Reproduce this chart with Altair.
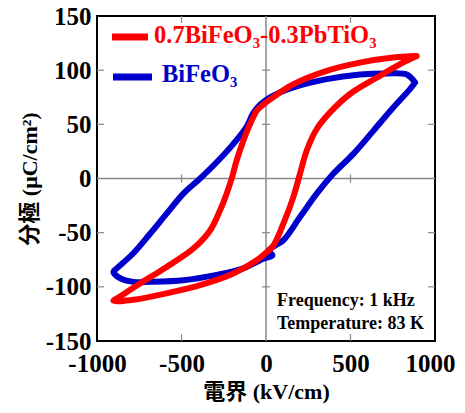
import altair as alt
import pandas as pd

# ---- data ----
blue_E = [882, 833, 714, 556, 359, 162, 24, -36, -77, -114, -193, -292, -390, -489, -588, -686, -785, -883, -903,
          -864, -785, -686, -489, -292, -134, -16, 38, 15, 63, 103, 201, 300, 398, 517, 635, 753, 852, 882]
blue_P = [88.6, 96, 97, 96, 91.7, 84, 75, 68, 60, 48, 32, 15, 0, -14, -32.5, -51, -69, -83, -86,
          -92, -95.4, -95.4, -94, -89, -83, -74, -71, -67, -61, -57, -35.6, -14, 4.3, 22.7, 44, 65.6, 82.5, 88.6]

red_E = [891, 753, 556, 359, 162, 24, -36, -55, -95, -134, -174, -203, -233, -272, -331, -430, -588, -746, -864, -903,
         -785, -588, -390, -193, -55, 4, 43, 103, 162, 201, 241, 300, 379, 497, 655, 793, 891]
red_P = [113, 111.6, 107, 99.4, 87, 73, 65.6, 62.6, 50, 35, 16.6, 0, -14, -29.4, -48, -64.7, -81.6, -97, -109, -113,
         -112, -106, -98.5, -87.7, -75.5, -68, -62, -41.7, -17, 4.3, 25.8, 45.7, 61, 78, 93, 105.5, 113]

series_names = ["0.7BiFeO₃-0.3PbTiO₃", "BiFeO₃"]
notes = ["Frequency: 1 kHz", "Temperature: 83 K"]
x_tick_values = [-1000, -500, 0, 500, 1000]
y_tick_values = [-150, -100, -50, 0, 50, 100, 150]
x_minor = [-500, 500]
y_minor = [-100, -50, 50, 100]

x_title = "電界 (kV/cm)"
y_title = "分極 (μC/cm²)"

W, H = 338, 325
FONT = "Liberation Serif, Times New Roman, Noto Sans CJK JP, serif"
RED = "#ff0000"
BLUE = "#0000cc"
GREY = "#888888"

dfb = pd.DataFrame({"E": blue_E, "P": blue_P, "i": range(len(blue_E))})
dfr = pd.DataFrame({"E": red_E, "P": red_P, "i": range(len(red_E))})

xs = alt.Scale(domain=[-1000, 1000], nice=False, zero=False)
ys = alt.Scale(domain=[-150, 150], nice=False, zero=False)

label_expr = "'' + datum.value"
xaxis = alt.Axis(values=x_tick_values, title=x_title, grid=False, ticks=False, domain=False,
                 labelExpr=label_expr,
                 labelOffset={"condition": {"test": "datum.value == 1000", "value": -5}, "value": 0},
                 labelFont=FONT, labelFontSize=25, labelFontWeight="bold", labelColor="black",
                 labelPadding=10, labelFlush=False, titleFont=FONT, titleFontSize=22,
                 titleFontWeight="bold", titleColor="black", titlePadding=5)
yaxis = alt.Axis(values=y_tick_values, title=y_title, grid=False, ticks=False, domain=False,
                 labelExpr=label_expr,
                 labelFont=FONT, labelFontSize=25, labelFontWeight="bold", labelColor="black",
                 labelPadding=6, labelFlush=False, titleFont=FONT, titleFontSize=22,
                 titleFontWeight="bold", titleColor="black", titlePadding=4)

base_x = alt.X("E:Q", scale=xs, axis=xaxis)
base_y = alt.Y("P:Q", scale=ys, axis=yaxis)

blue = alt.Chart(dfb).mark_line(color=BLUE, strokeWidth=6, strokeJoin="round", strokeCap="round",
                                interpolate="catmull-rom").encode(
    x=base_x, y=base_y, order="i:Q")
red = alt.Chart(dfr).mark_line(color=RED, strokeWidth=6, strokeJoin="round", strokeCap="round",
                               interpolate="catmull-rom").encode(
    x=alt.X("E:Q", scale=xs), y=alt.Y("P:Q", scale=ys), order="i:Q")

zero_df = pd.DataFrame({"z": [0]})
zero_v = alt.Chart(zero_df).mark_rule(color=GREY, strokeWidth=1.5).encode(x=alt.X("z:Q", scale=xs))
zero_h = alt.Chart(zero_df).mark_rule(color=GREY, strokeWidth=1.5).encode(y=alt.Y("z:Q", scale=ys))

xm = pd.DataFrame({"v": x_minor, "z": [0] * len(x_minor)})
ym = pd.DataFrame({"v": y_minor, "z": [0] * len(y_minor)})

tick_style = dict(color=GREY, strokeWidth=1.2)
t_bottom = alt.Chart(xm).mark_rule(**tick_style).encode(
    x=alt.X("v:Q", scale=xs), y=alt.value(H), y2=alt.value(H - 7))
t_top = alt.Chart(xm).mark_rule(**tick_style).encode(
    x=alt.X("v:Q", scale=xs), y=alt.value(0), y2=alt.value(7))
t_left = alt.Chart(ym).mark_rule(**tick_style).encode(
    y=alt.Y("v:Q", scale=ys), x=alt.value(0), x2=alt.value(7))
t_right = alt.Chart(ym).mark_rule(**tick_style).encode(
    y=alt.Y("v:Q", scale=ys), x=alt.value(W), x2=alt.value(W - 7))
t_zx = alt.Chart(xm).mark_rule(yOffset=-4, y2Offset=4, **tick_style).encode(
    x=alt.X("v:Q", scale=xs), y=alt.Y("z:Q", scale=ys), y2="z:Q")
t_zy = alt.Chart(ym).mark_rule(xOffset=-4, x2Offset=4, **tick_style).encode(
    y=alt.Y("v:Q", scale=ys), x=alt.X("z:Q", scale=xs), x2="z:Q")

# legend (manual, as in the reference)
leg_df = pd.DataFrame({"name": series_names})
leg_red_line = alt.Chart(leg_df.iloc[[0]]).mark_rule(color=RED, strokeWidth=7).encode(
    x=alt.value(15), x2=alt.value(51), y=alt.value(21))
leg_red_text = alt.Chart(leg_df.iloc[[0]]).mark_text(
    color=RED, font=FONT, fontSize=24.5, fontWeight="bold", align="left", baseline="alphabetic").encode(
    x=alt.value(57), y=alt.value(27), text="name:N")
leg_blue_line = alt.Chart(leg_df.iloc[[1]]).mark_rule(color=BLUE, strokeWidth=7).encode(
    x=alt.value(16), x2=alt.value(55), y=alt.value(61))
leg_blue_text = alt.Chart(leg_df.iloc[[1]]).mark_text(
    color=BLUE, font=FONT, fontSize=24.5, fontWeight="bold", align="left", baseline="alphabetic").encode(
    x=alt.value(65), y=alt.value(66), text="name:N")

note_df = pd.DataFrame({"t": notes})
note1 = alt.Chart(note_df.iloc[[0]]).mark_text(
    color="black", font=FONT, fontSize=18, fontWeight="bold", align="left", baseline="alphabetic").encode(
    x=alt.value(180), y=alt.value(290), text="t:N")
note2 = alt.Chart(note_df.iloc[[1]]).mark_text(
    color="black", font=FONT, fontSize=18, fontWeight="bold", align="left", baseline="alphabetic").encode(
    x=alt.value(180), y=alt.value(313), text="t:N")

chart = alt.layer(
    zero_v, zero_h, t_bottom, t_top, t_left, t_right, t_zx, t_zy,
    blue, red,
    leg_red_line, leg_red_text, leg_blue_line, leg_blue_text, note1, note2,
).properties(
    width=W, height=H,
    autosize=alt.AutoSizeParams(type="none"),
    padding={"left": 89, "top": 8, "right": 22, "bottom": 64},
    background="white",
).configure_view(stroke="black", strokeWidth=2)

chart.save("out.html", embed_options={"renderer": "svg", "actions": False})
